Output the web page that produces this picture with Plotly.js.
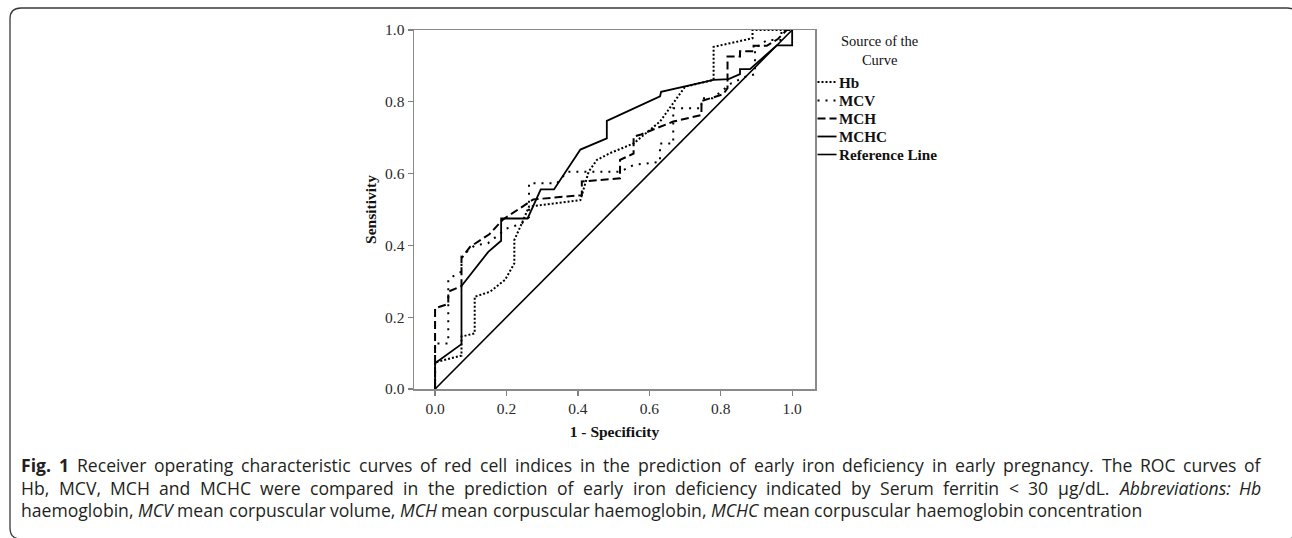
<!DOCTYPE html>
<html>
<head>
<meta charset="utf-8">
<script src="https://cdn.plot.ly/plotly-3.0.1.min.js"></script>
<style>html,body{margin:0;padding:0;background:#fff;}#chart{width:1292px;height:538px;}</style>
</head>
<body>
<div id="chart"></div>
<script>
// ROC curve data (1 - specificity, sensitivity)
var hbX   = [0, 0, 0.074, 0.074, 0.111, 0.111, 0.154, 0.196, 0.222, 0.222, 0.245, 0.263, 0.407, 0.43, 0.453, 0.49, 0.556, 0.63, 0.70, 0.78, 0.78, 0.889, 0.889, 1.0];
var hbY   = [0, 0.074, 0.093, 0.146, 0.155, 0.257, 0.271, 0.304, 0.35, 0.415, 0.466, 0.508, 0.526, 0.605, 0.638, 0.657, 0.684, 0.745, 0.842, 0.861, 0.953, 0.977, 1.0, 1.0];

var mcvX  = [0, 0, 0.037, 0.037, 0.074, 0.074, 0.111, 0.148, 0.20, 0.241, 0.263, 0.263, 0.341, 0.37, 0.518, 0.556, 0.63, 0.63, 0.667, 0.667, 0.746, 0.746, 0.778, 0.83, 0.87, 0.896, 0.896, 0.93, 0.97, 0.97, 1.0];
var mcvY  = [0, 0.127, 0.127, 0.306, 0.327, 0.37, 0.40, 0.406, 0.447, 0.46, 0.478, 0.573, 0.573, 0.605, 0.605, 0.624, 0.633, 0.684, 0.684, 0.782, 0.782, 0.81, 0.81, 0.852, 0.87, 0.877, 0.95, 0.972, 0.972, 1.0, 1.0];

var mchX  = [0, 0, 0.037, 0.037, 0.074, 0.074, 0.098, 0.152, 0.19, 0.275, 0.411, 0.411, 0.518, 0.518, 0.556, 0.556, 0.574, 0.667, 0.746, 0.746, 0.807, 0.819, 0.819, 0.854, 0.854, 0.892, 0.892, 0.929, 0.96, 0.985, 1.0];
var mchY  = [0, 0.225, 0.237, 0.271, 0.287, 0.364, 0.396, 0.431, 0.472, 0.528, 0.540, 0.578, 0.587, 0.638, 0.656, 0.703, 0.708, 0.745, 0.763, 0.802, 0.821, 0.838, 0.926, 0.926, 0.941, 0.941, 0.956, 0.956, 0.975, 1.0, 1.0];

var mchcX = [0, 0, 0.074, 0.074, 0.149, 0.185, 0.185, 0.259, 0.296, 0.333, 0.407, 0.481, 0.481, 0.63, 0.633, 0.78, 0.822, 0.854, 0.854, 0.882, 0.957, 1.0, 1.0];
var mchcY = [0, 0.072, 0.125, 0.287, 0.382, 0.413, 0.475, 0.475, 0.556, 0.556, 0.667, 0.698, 0.747, 0.815, 0.828, 0.861, 0.863, 0.877, 0.891, 0.891, 0.957, 0.957, 1.0];

var refX  = [0, 1];
var refY  = [0, 1];

var tickVals = [0, 0.2, 0.4, 0.6, 0.8, 1.0];
var tickText = ["0.0", "0.2", "0.4", "0.6", "0.8", "1.0"];

var seriesNames = ["Hb", "MCV", "MCH", "MCHC", "Reference Line"];
var legendTitle = "Source of the<br>Curve";

// caption text, one entry per printed line; word indices that are bold / italic
var captionLines = [
  "Fig. 1 Receiver operating characteristic curves of red cell indices in the prediction of early iron deficiency in early pregnancy. The ROC curves of",
  "Hb, MCV, MCH and MCHC were compared in the prediction of early iron deficiency indicated by Serum ferritin < 30 μg/dL. Abbreviations: Hb",
  "haemoglobin, MCV mean corpuscular volume, MCH mean corpuscular haemoglobin, MCHC mean corpuscular haemoglobin concentration"
];
var captionBold    = [[0, 1], [], []];
var captionItalic  = [[], [21, 22], [1, 5, 9]];
var captionJustify = [true, true, false];

var serif = "Liberation Serif, Times New Roman, serif";
var capFamily = "Open Sans";
var capFont = "Open Sans, Noto Sans, sans-serif";
var capSize = 17.6;

var styles = [
  {dash: "2px,2px", width: 2},
  {dash: "2px,6px", width: 2},
  {dash: "8px,4px", width: 2},
  {dash: "solid", width: 1.8},
  {dash: "solid", width: 1.6}
];

var xs = [hbX, mcvX, mchX, mchcX, refX];
var ys = [hbY, mcvY, mchY, mchcY, refY];

var data = seriesNames.map(function (n, i) {
  return {x: xs[i], y: ys[i], name: n, type: "scatter", mode: "lines",
          line: {color: "#000", width: styles[i].width, dash: styles[i].dash},
          hoverinfo: "skip", showlegend: false};
});

// plot area in pixels: left 414, right 815, top 30, bottom 389
var L = 414, R = 815, T = 30, B = 389;
function px(p) { return (p - L) / (R - L); }
function py(p) { return (B - p) / (B - T); }

// outer rounded frame of the figure panel
var rx = 11 / (R - L), ry = 11 / (B - T);
var bx0 = px(10), bx1 = px(1298), by0 = py(8), by1 = py(539);
var borderPath = "M " + bx0 + "," + (by0 - ry) +
  " Q " + bx0 + "," + by0 + " " + (bx0 + rx) + "," + by0 +
  " L " + (bx1 - rx) + "," + by0 +
  " Q " + bx1 + "," + by0 + " " + bx1 + "," + (by0 - ry) +
  " L " + bx1 + "," + (by1 + ry) +
  " Q " + bx1 + "," + by1 + " " + (bx1 - rx) + "," + by1 +
  " L " + (bx0 + rx) + "," + by1 +
  " Q " + bx0 + "," + by1 + " " + bx0 + "," + (by1 + ry) + " Z";

var shapes = [{type: "path", xref: "paper", yref: "paper", path: borderPath,
               line: {color: "#3a3a3a", width: 1.3}, fillcolor: "rgba(0,0,0,0)", layer: "below"}];
var annotations = [];

// caption: justified lines, laid out word by word using measured text widths
var capLeft = 21, capRight = 1261;
var captionY = [465, 487.5, 510];
var ctx = document.createElement("canvas").getContext("2d");
function esc(s) { return s.replace(/&/g, "&amp;").replace(/</g, "&lt;").replace(/>/g, "&gt;"); }
captionLines.forEach(function (line, li) {
  var words = line.split(" ");
  var info = words.map(function (w, wi) {
    var b = captionBold[li].indexOf(wi) >= 0, it = captionItalic[li].indexOf(wi) >= 0;
    ctx.font = (it ? "italic " : "") + (b ? "bold " : "") + capSize + "px '" + capFamily + "'";
    return {w: w, b: b, it: it, width: ctx.measureText(w).width};
  });
  ctx.font = capSize + "px '" + capFamily + "'";
  var space = ctx.measureText(" ").width;
  var total = info.reduce(function (a, o) { return a + o.width; }, 0);
  var gap = captionJustify[li] ? (capRight - capLeft - total) / (words.length - 1) : space;
  var x = capLeft;
  info.forEach(function (o) {
    var t = esc(o.w);
    if (o.b) t = "<b>" + t + "</b>";
    if (o.it) t = "<i>" + t + "</i>";
    annotations.push({text: t, xref: "paper", yref: "paper", x: px(x), y: py(captionY[li]),
                      xanchor: "left", yanchor: "middle", showarrow: false, align: "left",
                      borderpad: 0, borderwidth: 0,
                      font: {family: capFont, size: capSize, color: "#231f20"}});
    x += o.width + gap;
  });
});

// legend (key) beside the plot
var legendRowY = [82, 100.5, 118.5, 136.5, 154.5];
annotations.push({text: legendTitle, xref: "paper", yref: "paper", x: px(879), y: py(50),
                  xanchor: "center", yanchor: "middle", showarrow: false, align: "center",
                  font: {family: serif, size: 14.5, color: "#111"}});
seriesNames.forEach(function (n, i) {
  shapes.push({type: "line", xref: "paper", yref: "paper",
               x0: px(817.5), x1: px(836.5), y0: py(legendRowY[i]), y1: py(legendRowY[i]),
               line: {color: "#000", width: styles[i].width, dash: styles[i].dash}});
  annotations.push({text: "<b>" + n + "</b>", xref: "paper", yref: "paper",
                    x: px(837), y: py(legendRowY[i]), xanchor: "left", yanchor: "middle",
                    showarrow: false, align: "left",
                    font: {family: serif, size: 15.2, color: "#111"}});
});

var layout = {
  width: 1292, height: 538,
  margin: {l: L, r: 1292 - R, t: T, b: 538 - B, pad: 0},
  paper_bgcolor: "#fff", plot_bgcolor: "#fff",
  showlegend: false,
  xaxis: {
    range: [-0.059, 1.064], tickvals: tickVals, ticktext: tickText,
    ticks: "outside", ticklen: 5, tickwidth: 1.2, tickcolor: "#808080",
    showline: true, linecolor: "#8a8a8a", linewidth: 1.5, mirror: true,
    showgrid: false, zeroline: false, fixedrange: true,
    tickfont: {family: serif, size: 15.5, color: "#2a2a2a"},
    title: {text: "<b>1 - Specificity</b>", font: {family: serif, size: 15.5, color: "#111"}, standoff: 10}
  },
  yaxis: {
    range: [0, 1], tickvals: tickVals, ticktext: tickText,
    ticks: "outside", ticklen: 5, tickwidth: 1.2, tickcolor: "#808080",
    showline: true, linecolor: "#8a8a8a", linewidth: 1.5, mirror: true,
    showgrid: false, zeroline: false, fixedrange: true,
    tickfont: {family: serif, size: 15.5, color: "#2a2a2a"},
    title: {text: "<b>Sensitivity</b>", font: {family: serif, size: 15.5, color: "#111"}, standoff: 4}
  },
  shapes: shapes,
  annotations: annotations
};

Plotly.newPlot("chart", data, layout, {displayModeBar: false, staticPlot: true});
</script>
</body>
</html>
